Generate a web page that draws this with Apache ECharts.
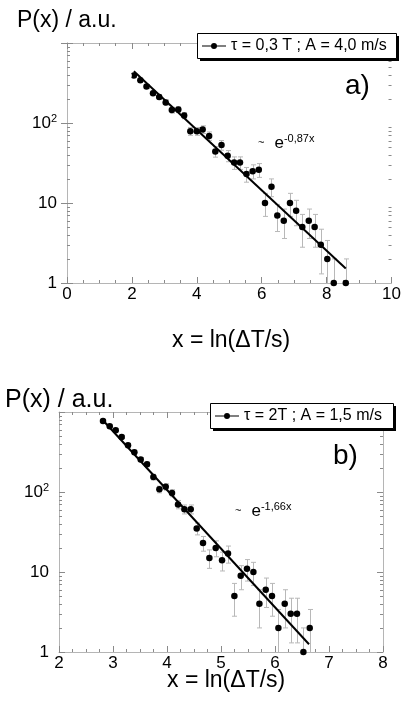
<!DOCTYPE html>
<html><head><meta charset="utf-8">
<script src="https://cdn.jsdelivr.net/npm/echarts@6/dist/echarts.min.js"></script>
<style>html,body{margin:0;padding:0;background:#fff}#c{width:404px;height:713px}</style>
</head><body><div id="c"></div>
<script>
// ---------- Panel a) ----------
const aOpenX = [1.12, 1.30, 1.50, 1.69, 1.89];
const aOpenY = [228, 319, 321, 363, 393];
const aX = [2.06, 2.26, 2.45, 2.65, 2.84, 3.04, 3.23, 3.43, 3.61, 3.80, 4.00, 4.18, 4.38, 4.57, 4.76, 4.95, 5.15, 5.33, 5.53, 5.72, 5.91, 6.10, 6.30, 6.48, 6.68, 6.87, 7.06, 7.25, 7.45, 7.63, 7.82, 8.02, 8.22, 8.59];
const aY = [393, 343, 286, 236, 211, 181, 145, 147, 124, 79, 79, 83, 69, 44, 53, 39, 32, 32, 23, 25, 26, 10, 16, 7, 6, 10, 8, 5, 6, 5, 3, 2, 1, 1];
const aErr = [20, 18.5, 17, 15.4, 14.5, 13.5, 12, 12, 11, 8.9, 8.9, 9.1, 8.3, 6.6, 7.3, 6.2, 5.7, 5.7, 4.8, 5, 5.1, 3.2, 4, 2.6, 2.4, 3.2, 2.8, 2.2, 2.4, 2.2, 1.7, 1.4, 1, 1];
const aFitX = [2.06, 8.59];
const aFitY = [444, 1.52];
const aLegend = 'τ = 0,3 T ; A = 4,0 m/s';
const aFitText = '-0,87x';
const aXTickMin = 0, aXTickMax = 10, aXTickStep = 2;

// ---------- Panel b) ----------
const bX = [2.815, 2.939, 3.05, 3.161, 3.278, 3.396, 3.513, 3.630, 3.748, 3.859, 3.976, 4.093, 4.204, 4.322, 4.439, 4.55, 4.667, 4.785, 4.902, 5.019, 5.13, 5.248, 5.365, 5.481, 5.6, 5.711, 5.828, 5.944, 6.063, 6.18, 6.291, 6.407, 6.526, 6.643];
const bY = [774, 664, 592, 488, 384, 314, 254, 222, 154, 108, 116, 97, 70, 61, 61, 35, 23, 15, 20, 14, 17, 5, 9, 11, 10, 4, 6, 5, 2, 4, 3, 3, 1, 2];
const bErr = [27.8, 25.8, 24.3, 22.1, 19.6, 17.7, 15.9, 14.9, 12.4, 10.4, 10.8, 9.8, 8.4, 7.8, 7.8, 5.9, 4.8, 3.9, 4.5, 3.7, 4.1, 2.2, 3, 3.3, 3.2, 2, 2.4, 2.2, 1.4, 2, 1.7, 1.7, 1, 1.4];
const bFitX = [2.80, 6.63];
const bFitY = [805, 1.25];
const bLegend = 'τ = 2T ; A = 1,5 m/s';
const bFitText = '-1,66x';
const bXTickMin = 2, bXTickMax = 8, bXTickStep = 1;

// ---------- shared y axis ----------
const yMin = 1, yMax = 1000;
const yTickValues = [1, 10, 100];
const yTickTexts = ['1', '10', '10{sup|2}'];
const yMinorTicks = [2,3,4,5,6,7,8,9,20,30,40,50,60,70,80,90,200,300,400,500,600,700,800,900];

const FONT = 'Liberation Sans';
const FRAME = '#b5b5b5';
const TICK = '#8a8a8a';

const zip = (xs, ys, es) => xs.map((x, i) => es ? [x, ys[i], es[i]] : [x, ys[i]]);

function errRender(params, api) {
  const cs = params.coordSys;
  const x = api.value(0), y = api.value(1), e = api.value(2);
  const p = api.coord([x, y]);
  const px = Math.round(p[0]) + 0.5;
  const hi = api.coord([x, y + e])[1];
  const clamped = (y - e) < yMin;
  const lo = clamped ? cs.y + cs.height : api.coord([x, y - e])[1];
  const st = { stroke: '#b8b8b8', lineWidth: 1 };
  const hw = 2.5;
  const ch = [
    { type: 'line', shape: { x1: px, y1: hi, x2: px, y2: lo }, style: st },
    { type: 'line', shape: { x1: px - hw, y1: hi, x2: px + hw, y2: hi }, style: st }
  ];
  if (!clamped) ch.push({ type: 'line', shape: { x1: px - hw, y1: lo, x2: px + hw, y2: lo }, style: st });
  return { type: 'group', children: ch };
}

function minorRender(params, api) {
  const cs = params.coordSys;
  const y = Math.round(api.coord([api.value(0), api.value(1)])[1]) + 0.5;
  const st = { stroke: TICK, lineWidth: 1 };
  return { type: 'group', children: [
    { type: 'line', shape: { x1: cs.x, y1: y, x2: cs.x + 3, y2: y }, style: st },
    { type: 'line', shape: { x1: cs.x + cs.width - 3, y1: y, x2: cs.x + cs.width, y2: y }, style: st }
  ]};
}

function xAxes(gi, min, max, step) {
  const base = {
    type: 'value', gridIndex: gi, min: min, max: max, interval: step,
    axisLine: { show: true, lineStyle: { color: FRAME, width: 1 } },
    axisTick: { show: true, inside: true, length: 6, lineStyle: { color: TICK } },
    minorTick: { show: true, splitNumber: 4, length: 3, lineStyle: { color: TICK } },
    splitLine: { show: false }, minorSplitLine: { show: false }
  };
  return [
    Object.assign({}, base, { position: 'bottom',
      axisLabel: { show: true, margin: 3, color: '#000', fontFamily: FONT, fontSize: 17 } }),
    Object.assign({}, base, { position: 'top', axisLabel: { show: false } })
  ];
}

function yAxes(gi) {
  const base = {
    type: 'log', logBase: 10, gridIndex: gi, min: yMin, max: yMax,
    axisLine: { show: true, lineStyle: { color: FRAME, width: 1 } },
    axisTick: { show: true, inside: true, length: 6, lineStyle: { color: TICK } },
    minorTick: { show: false },
    splitLine: { show: false }
  };
  return [
    Object.assign({}, base, { position: 'left',
      axisLabel: {
        show: true, margin: 10, color: '#000', fontFamily: FONT, fontSize: 17,
        formatter: v => { const i = yTickValues.indexOf(Math.round(v)); return i >= 0 ? yTickTexts[i] : ''; },
        rich: { sup: { fontSize: 11, fontFamily: FONT, color: '#000', padding: [0, 0, 9, 0] } }
      } }),
    Object.assign({}, base, { position: 'right', axisLabel: { show: false } })
  ];
}

function panelSeries(gi, openX, openY, xs, ys, es, fitX, fitY, legendName, xmin) {
  const xi = gi * 2, yi = gi * 2;
  const s = [
    { type: 'custom', xAxisIndex: xi, yAxisIndex: yi, renderItem: minorRender, silent: true, z: 1,
      data: yMinorTicks.map(v => [xmin, v]) },
    { type: 'custom', xAxisIndex: xi, yAxisIndex: yi, renderItem: errRender, silent: true, z: 2,
      data: zip(xs, ys, es) },
    { type: 'scatter', xAxisIndex: xi, yAxisIndex: yi, symbol: 'circle', symbolSize: 6.5, z: 3,
      itemStyle: { color: '#000', opacity: 1 }, data: zip(xs, ys) },
    { type: 'line', name: legendName, xAxisIndex: xi, yAxisIndex: yi, symbol: 'none', z: 4,
      lineStyle: { color: '#000', width: 2 }, itemStyle: { color: '#000' }, data: zip(fitX, fitY) }
  ];
  if (openX) s.push({ type: 'scatter', xAxisIndex: xi, yAxisIndex: yi, symbol: 'emptyCircle', symbolSize: 5, z: 3,
      itemStyle: { color: '#fff', borderColor: '#999', borderWidth: 1, opacity: 1 }, data: zip(openX, openY) });
  return s;
}

const legendIcon = 'path://M0,2.5L24,2.5L24,3.5L0,3.5Z M9,3A3,3 0 1 1 15,3A3,3 0 1 1 9,3Z';
function legend(name, left, top) {
  return {
    data: [{ name: name, icon: legendIcon }],
    left: left, top: top, orient: 'horizontal', z: 20,
    itemWidth: 24, itemHeight: 6, padding: [4, 5, 4, 4],
    backgroundColor: 'transparent', borderWidth: 0,
    selectedMode: false,
    textStyle: { color: '#000', fontFamily: FONT, fontSize: 16 }
  };
}
function legendBox(x, y, w, h) {
  return [
    { type: 'rect', z: 5, silent: true, shape: { x: x + 3, y: y + 3, width: w, height: h }, style: { fill: '#000' } },
    { type: 'rect', z: 6, silent: true, shape: { x: x + 0.5, y: y + 0.5, width: w, height: h }, style: { fill: '#fff', stroke: '#000', lineWidth: 1 } }
  ];
}

function txt(x, y, text, size, extra) {
  return Object.assign({ type: 'text', x: x, y: y, silent: true, z: 100,
    style: Object.assign({ text: text, fill: '#000', fontFamily: FONT, fontSize: size, textVerticalAlign: 'middle' }, extra || {}) });
}

function fitLabel(x, y, exp) {
  return { type: 'text', x: x, y: y, silent: true, z: 100,
    style: { text: '{t|~}   {e|e}{s|' + exp + '}', fill: '#000', fontFamily: FONT, verticalAlign: 'bottom',
      rich: { t: { fontSize: 11, fontFamily: FONT, padding: [0, 0, 2, 0] }, e: { fontSize: 17, fontFamily: FONT },
              s: { fontSize: 11, fontFamily: FONT, padding: [0, 0, 10, 0] } } } };
}

const chart = echarts.init(document.getElementById('c'), null, { renderer: 'canvas' });
chart.setOption({
  animation: false,
  backgroundColor: '#fff',
  grid: [
    { left: 67, top: 43, width: 325, height: 240 },
    { left: 59, top: 412, width: 324, height: 240 }
  ],
  xAxis: [].concat(xAxes(0, aXTickMin, aXTickMax, aXTickStep), xAxes(1, bXTickMin, bXTickMax, bXTickStep)),
  yAxis: [].concat(yAxes(0), yAxes(1)),
  legend: [legend(aLegend, 198, 34), legend(bLegend, 211, 404)],
  series: [].concat(
    panelSeries(0, aOpenX, aOpenY, aX, aY, aErr, aFitX, aFitY, aLegend, aXTickMin),
    panelSeries(1, null, null, bX, bY, bErr, bFitX, bFitY, bLegend, bXTickMin)
  ),
  graphic: [].concat(
    legendBox(197, 33, 199, 25),
    legendBox(210, 403, 183, 25),
    [
      txt(17, 21, 'P(x) / a.u.', 23),
      txt(172, 341, 'x = ln(ΔT/s)', 23),
      txt(345, 86, 'a)', 28),
      fitLabel(258, 154, aFitText),
      txt(5, 400, 'P(x) / a.u.', 25),
      txt(167, 681, 'x = ln(ΔT/s)', 23),
      txt(333, 456, 'b)', 28),
      fitLabel(235, 522, bFitText)
    ]
  )
});
</script>
</body></html>
